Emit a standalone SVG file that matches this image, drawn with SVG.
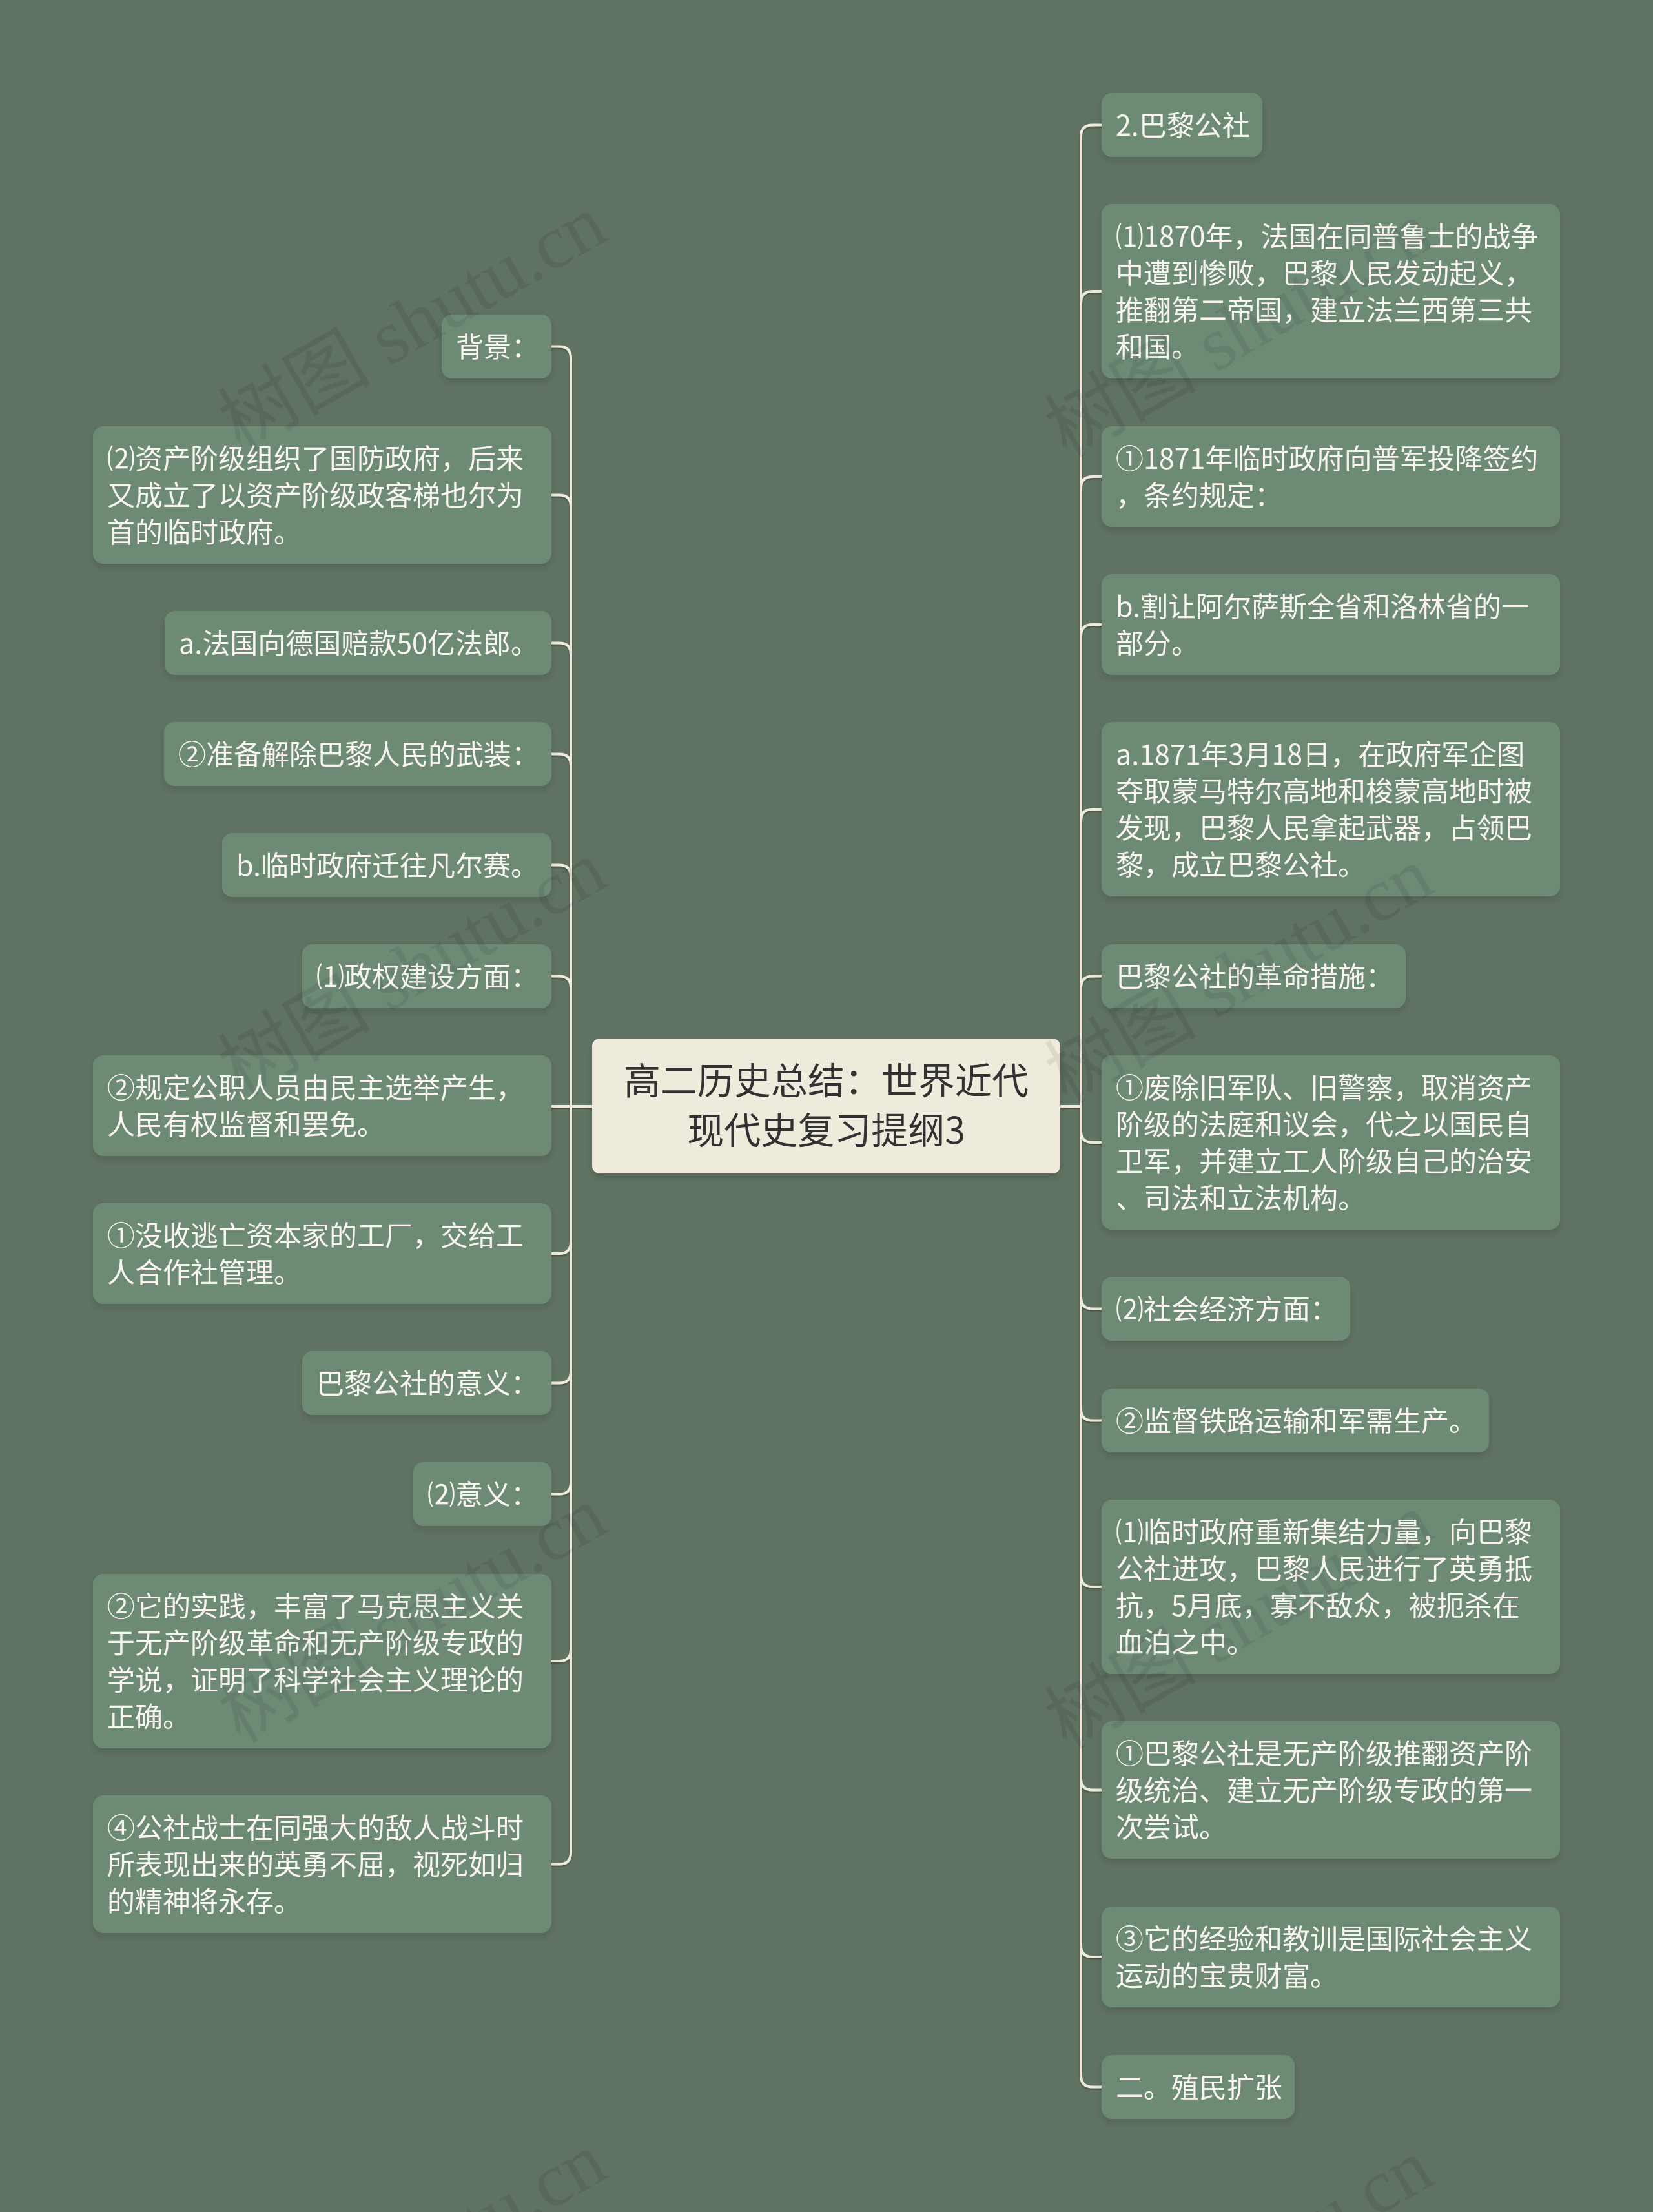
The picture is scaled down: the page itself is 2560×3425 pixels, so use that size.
<svg xmlns="http://www.w3.org/2000/svg" width="2560" height="3425" viewBox="0 0 2560 3425">
<style>
.bg{fill:#607262}
.node rect{fill:#6d8a74}
.node text{font-family:"Noto Sans CJK SC","Noto Sans",sans-serif;font-size:43px;fill:#f7f5ee}
.root rect{fill:#efebdc}
.root text{font-family:"Noto Sans CJK SC","Noto Sans",sans-serif;font-size:57px;fill:#333333;text-anchor:middle}
.links path{fill:none;stroke:#efeadb;stroke-width:4;stroke-linecap:round}
.wm{font-family:"Liberation Serif","Noto Sans CJK SC",serif;font-size:118px;fill:#000;fill-opacity:0.08}
</style>
<defs>
<filter id="sh" x="-10%" y="-20%" width="120%" height="160%">
<feDropShadow dx="0" dy="6" stdDeviation="6" flood-color="#000" flood-opacity="0.12"/>
</filter>
<filter id="lsh" x="-10%" y="-10%" width="120%" height="120%">
<feDropShadow dx="0" dy="2" stdDeviation="1.2" flood-color="#000" flood-opacity="0.3"/>
</filter>
</defs>
<rect class="bg" x="0" y="0" width="2560" height="3425"/>

<g id="connectors" class="links" filter="url(#lsh)">
<path d="M917 1713 H884 V554.5 Q884 536.5 866 536.5 H854"/>
<path d="M917 1713 H884 V784.5 Q884 766.5 866 766.5 H854"/>
<path d="M917 1713 H884 V1013.5 Q884 995.5 866 995.5 H854"/>
<path d="M917 1713 H884 V1185.5 Q884 1167.5 866 1167.5 H854"/>
<path d="M917 1713 H884 V1357.5 Q884 1339.5 866 1339.5 H854"/>
<path d="M917 1713 H884 V1529.5 Q884 1511.5 866 1511.5 H854"/>
<path d="M917 1713 H854"/>
<path d="M917 1713 H884 V1923 Q884 1941 866 1941 H854"/>
<path d="M917 1713 H884 V2123.5 Q884 2141.5 866 2141.5 H854"/>
<path d="M917 1713 H884 V2295.5 Q884 2313.5 866 2313.5 H854"/>
<path d="M917 1713 H884 V2554 Q884 2572 866 2572 H854"/>
<path d="M917 1713 H884 V2868.5 Q884 2886.5 866 2886.5 H854"/>

<path d="M1642 1713 H1674 V211.5 Q1674 193.5 1692 193.5 H1706"/>
<path d="M1642 1713 H1674 V469 Q1674 451 1692 451 H1706"/>
<path d="M1642 1713 H1674 V756 Q1674 738 1692 738 H1706"/>
<path d="M1642 1713 H1674 V985 Q1674 967 1692 967 H1706"/>
<path d="M1642 1713 H1674 V1271 Q1674 1253 1692 1253 H1706"/>
<path d="M1642 1713 H1674 V1529.5 Q1674 1511.5 1692 1511.5 H1706"/>
<path d="M1642 1713 H1674 V1751 Q1674 1769 1692 1769 H1706"/>
<path d="M1642 1713 H1674 V2008.5 Q1674 2026.5 1692 2026.5 H1706"/>
<path d="M1642 1713 H1674 V2181.5 Q1674 2199.5 1692 2199.5 H1706"/>
<path d="M1642 1713 H1674 V2439 Q1674 2457 1692 2457 H1706"/>
<path d="M1642 1713 H1674 V2753.5 Q1674 2771.5 1692 2771.5 H1706"/>
<path d="M1642 1713 H1674 V3012 Q1674 3030 1692 3030 H1706"/>
<path d="M1642 1713 H1674 V3213.5 Q1674 3231.5 1692 3231.5 H1706"/>
</g>

<g id="root" class="root" filter="url(#sh)">
<rect x="917" y="1608" width="725" height="209" rx="12"/>
<text x="1279.5" y="1694">高二历史总结：世界近代</text>
<text x="1279.5" y="1771">现代史复习提纲3</text>
</g>

<g id="L1" class="node" filter="url(#sh)"><rect x="684" y="487" width="170" height="99" rx="16"/><text x="706" y="552.5">背景：</text></g>
<g id="L2" class="node" filter="url(#sh)"><rect x="144" y="660" width="710" height="213" rx="16"/><text x="166" y="725.5">⑵资产阶级组织了国防政府，后来</text><text x="166" y="782.5">又成立了以资产阶级政客梯也尔为</text><text x="166" y="839.5">首的临时政府。</text></g>
<g id="L3" class="node" filter="url(#sh)"><rect x="255" y="946" width="599" height="99" rx="16"/><text x="277" y="1011.5">a.法国向德国赔款50亿法郎。</text></g>
<g id="L4" class="node" filter="url(#sh)"><rect x="254" y="1118" width="600" height="99" rx="16"/><text x="276" y="1183.5">②准备解除巴黎人民的武装：</text></g>
<g id="L5" class="node" filter="url(#sh)"><rect x="344" y="1290" width="510" height="99" rx="16"/><text x="366" y="1355.5">b.临时政府迁往凡尔赛。</text></g>
<g id="L6" class="node" filter="url(#sh)"><rect x="468" y="1462" width="386" height="99" rx="16"/><text x="490" y="1527.5">⑴政权建设方面：</text></g>
<g id="L7" class="node" filter="url(#sh)"><rect x="144" y="1634" width="710" height="156" rx="16"/><text x="166" y="1699.5">②规定公职人员由民主选举产生，</text><text x="166" y="1756.5">人民有权监督和罢免。</text></g>
<g id="L8" class="node" filter="url(#sh)"><rect x="144" y="1863" width="710" height="156" rx="16"/><text x="166" y="1928.5">①没收逃亡资本家的工厂，交给工</text><text x="166" y="1985.5">人合作社管理。</text></g>
<g id="L9" class="node" filter="url(#sh)"><rect x="468" y="2092" width="386" height="99" rx="16"/><text x="490" y="2157.5">巴黎公社的意义：</text></g>
<g id="L10" class="node" filter="url(#sh)"><rect x="640" y="2264" width="214" height="99" rx="16"/><text x="662" y="2329.5">⑵意义：</text></g>
<g id="L11" class="node" filter="url(#sh)"><rect x="144" y="2437" width="710" height="270" rx="16"/><text x="166" y="2502.5">②它的实践，丰富了马克思主义关</text><text x="166" y="2559.5">于无产阶级革命和无产阶级专政的</text><text x="166" y="2616.5">学说，证明了科学社会主义理论的</text><text x="166" y="2673.5">正确。</text></g>
<g id="L12" class="node" filter="url(#sh)"><rect x="144" y="2780" width="710" height="213" rx="16"/><text x="166" y="2845.5">④公社战士在同强大的敌人战斗时</text><text x="166" y="2902.5">所表现出来的英勇不屈，视死如归</text><text x="166" y="2959.5">的精神将永存。</text></g>

<g id="R1" class="node" filter="url(#sh)"><rect x="1706" y="144" width="249" height="99" rx="16"/><text x="1728" y="209.5">2.巴黎公社</text></g>
<g id="R2" class="node" filter="url(#sh)"><rect x="1706" y="316" width="710" height="270" rx="16"/><text x="1728" y="381.5">⑴1870年，法国在同普鲁士的战争</text><text x="1728" y="438.5">中遭到惨败，巴黎人民发动起义，</text><text x="1728" y="495.5">推翻第二帝国，建立法兰西第三共</text><text x="1728" y="552.5">和国。</text></g>
<g id="R3" class="node" filter="url(#sh)"><rect x="1706" y="660" width="710" height="156" rx="16"/><text x="1728" y="725.5">①1871年临时政府向普军投降签约</text><text x="1728" y="782.5">，条约规定：</text></g>
<g id="R4" class="node" filter="url(#sh)"><rect x="1706" y="889" width="710" height="156" rx="16"/><text x="1728" y="954.5">b.割让阿尔萨斯全省和洛林省的一</text><text x="1728" y="1011.5">部分。</text></g>
<g id="R5" class="node" filter="url(#sh)"><rect x="1706" y="1118" width="710" height="270" rx="16"/><text x="1728" y="1183.5">a.1871年3月18日，在政府军企图</text><text x="1728" y="1240.5">夺取蒙马特尔高地和梭蒙高地时被</text><text x="1728" y="1297.5">发现，巴黎人民拿起武器，占领巴</text><text x="1728" y="1354.5">黎，成立巴黎公社。</text></g>
<g id="R6" class="node" filter="url(#sh)"><rect x="1706" y="1462" width="471" height="99" rx="16"/><text x="1728" y="1527.5">巴黎公社的革命措施：</text></g>
<g id="R7" class="node" filter="url(#sh)"><rect x="1706" y="1634" width="710" height="270" rx="16"/><text x="1728" y="1699.5">①废除旧军队、旧警察，取消资产</text><text x="1728" y="1756.5">阶级的法庭和议会，代之以国民自</text><text x="1728" y="1813.5">卫军，并建立工人阶级自己的治安</text><text x="1728" y="1870.5">、司法和立法机构。</text></g>
<g id="R8" class="node" filter="url(#sh)"><rect x="1706" y="1977" width="385" height="99" rx="16"/><text x="1728" y="2042.5">⑵社会经济方面：</text></g>
<g id="R9" class="node" filter="url(#sh)"><rect x="1706" y="2150" width="600" height="99" rx="16"/><text x="1728" y="2215.5">②监督铁路运输和军需生产。</text></g>
<g id="R10" class="node" filter="url(#sh)"><rect x="1706" y="2322" width="710" height="270" rx="16"/><text x="1728" y="2387.5">⑴临时政府重新集结力量，向巴黎</text><text x="1728" y="2444.5">公社进攻，巴黎人民进行了英勇抵</text><text x="1728" y="2501.5">抗，5月底，寡不敌众，被扼杀在</text><text x="1728" y="2558.5">血泊之中。</text></g>
<g id="R11" class="node" filter="url(#sh)"><rect x="1706" y="2665" width="710" height="213" rx="16"/><text x="1728" y="2730.5">①巴黎公社是无产阶级推翻资产阶</text><text x="1728" y="2787.5">级统治、建立无产阶级专政的第一</text><text x="1728" y="2844.5">次尝试。</text></g>
<g id="R12" class="node" filter="url(#sh)"><rect x="1706" y="2952" width="710" height="156" rx="16"/><text x="1728" y="3017.5">③它的经验和教训是国际社会主义</text><text x="1728" y="3074.5">运动的宝贵财富。</text></g>
<g id="R13" class="node" filter="url(#sh)"><rect x="1706" y="3182" width="299" height="99" rx="16"/><text x="1728" y="3247.5">二。殖民扩张</text></g>

<g id="watermark">
<text class="wm" transform="translate(372 700) rotate(-30)">树图 shutu.cn</text>
<text class="wm" transform="translate(372 1700) rotate(-30)">树图 shutu.cn</text>
<text class="wm" transform="translate(372 2700) rotate(-30)">树图 shutu.cn</text>
<text class="wm" transform="translate(372 3700) rotate(-30)">树图 shutu.cn</text>
<text class="wm" transform="translate(1652 710) rotate(-30)">树图 shutu.cn</text>
<text class="wm" transform="translate(1652 1710) rotate(-30)">树图 shutu.cn</text>
<text class="wm" transform="translate(1652 2710) rotate(-30)">树图 shutu.cn</text>
<text class="wm" transform="translate(1652 3710) rotate(-30)">树图 shutu.cn</text>
</g>
</svg>
